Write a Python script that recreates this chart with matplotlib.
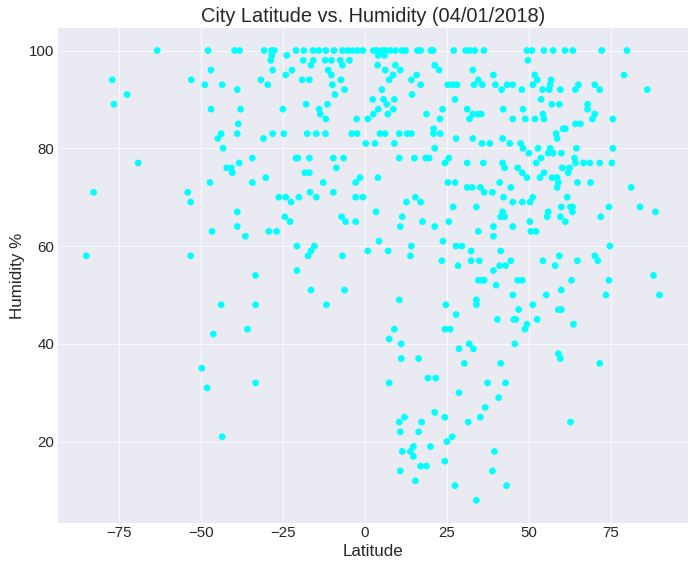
#!/usr/bin/env python3
"""City latitude vs. humidity scatter (04/01/2018)."""
import matplotlib
matplotlib.use("Agg")
import matplotlib.pyplot as plt

# Far south (lat < -43)
far_south_lat = [-77.0, -76.5, -72.5, -69.1, -63.3, -82.7, -54.0, -52.9, -48.8,
                 -47.8, -46.9, -46.9, -44.8, -47.2, -53.1, -46.6, -84.9, -53.1,
                 -46.2, -49.7, -48.1, -43.5, -43.8]
far_south_hum = [94, 89, 91, 77, 100, 71, 71, 94, 93,
                 100, 96, 88, 82, 73, 69, 63, 58, 58,
                 42, 35, 31, 21, 48]

# Southern mid latitudes (-45 .. 0)
south_lat = [
    -39.7, -38.2, -30.7, -28.4, -27.6, -21.0, -18.6, -15.8, -14.0, -11.9, -9.4, -6.8, -5.2, -3.7, -2.2, -0.6,
    -28.4, -23.8,
    -28.7, -18.8, -15.7, -12.1, -10.2, -7.5, -4.7,
    -16.4, -6.8,
    -28.1, -22.2, -11.2,
    -24.1, -10.2,
    -31.7, -19.1, -16.9, -7.3,
    -43.5, -29.6, -9.9,
    -38.9, -6.2,
    -9.1,
    -17.9, -11.4,
    -37.9, -25.0, -13.9,
    -13.6,
    -11.9, -2.5,
    -38.6,
    -43.8, -38.9, -28.1, -24.7, -17.6, -14.8, -12.0, -4.0, -2.4,
    -30.9,
    -43.2,
    -34.3, -21.0, -20.4, -16.9, -9.6, -6.5,
    -38.3,
    -42.1, -40.7, -8.7,
    -40.4, -18.3, -16.9,
    -30.2, -1.5,
    -34.3, -12.7, -2.8,
    -16.7, -9.6,
    -26.2, -24.1, -20.1, -14.8, -2.8, -0.6,
    -22.5,
    -38.9,
    -24.4, -7.1,
    -22.8, -5.9, -2.8,
    -38.9,
    -29.3, -26.9,
    -36.4,
    -20.7, -15.4,
    -16.4,
    -17.3, -6.8,
    -20.7,
    -33.3,
    -16.4, -6.2,
    -33.3, -11.7,
    -35.8,
    -33.3,
]
south_hum = [
    100, 100, 100, 100, 100, 100, 100, 100, 100, 100, 100, 100, 100, 100, 100, 100,
    99, 99,
    98, 98, 98, 98, 98, 98, 98,
    97, 97,
    96, 96, 96,
    95, 95,
    94, 94, 94, 94,
    93, 93, 93,
    92, 92,
    91,
    89, 89,
    88, 88, 88,
    87,
    86, 86,
    85,
    83, 83, 83, 83, 83, 83, 83, 83, 83,
    82,
    80,
    78, 78, 78, 78, 78, 78,
    77,
    76, 76, 76,
    75, 75, 75,
    74, 74,
    73, 73, 73,
    71, 71,
    70, 70, 70, 70, 70, 70,
    69,
    67,
    66, 66,
    65, 65, 65,
    64,
    63, 63,
    62,
    60, 60,
    59,
    58, 58,
    55,
    54,
    51, 51,
    48, 48,
    43,
    32,
]

# Equator to 50N
mid_lat = [
    2.6, 3.6, 5.2, 6.2, 7.7, 9.3, 11.3, 12.4, 16.0, 17.0, 20.1, 20.8, 27.1, 30.7, 31.9, 33.5, 36.3, 49.4, 50.9,
    4.1, 6.0,
    49.7,
    3.9, 9.3, 21.3,
    6.2, 10.8, 22.6, 32.9,
    8.6, 15.8, 39.2,
    7.4, 14.2, 34.6,
    17.0, 25.3, 26.8, 28.1, 33.3, 35.8, 39.8, 43.4, 45.1, 51.2,
    5.2, 41.7, 47.9,
    14.4,
    2.4, 5.7, 9.0, 27.5,
    6.7,
    4.1, 8.7, 23.7, 31.2, 42.2, 48.2,
    2.6, 7.0, 18.8, 32.9, 34.5, 35.5,
    0.9, 22.9, 31.9, 45.1, 48.9,
    21.0,
    4.6, 6.2, 10.5, 12.9, 14.2, 20.9, 23.0,
    27.8, 32.9, 42.0,
    0.3, 3.1, 9.0, 35.7, 38.1, 44.2, 47.5,
    21.3, 48.2,
    50.0,
    10.5, 15.1, 18.5, 19.6, 25.6,
    24.4, 31.2, 36.1, 42.0,
    42.6, 46.6,
    48.0,
    4.0, 49.4,
    25.3, 27.5, 41.1,
    31.2, 32.7, 35.2, 44.5,
    36.4, 38.9,
    15.4, 42.3,
    12.7, 17.0, 45.1, 48.0, 50.4,
    26.9, 34.0,
    3.4, 42.0,
    11.4, 41.4, 42.6,
    17.6, 25.6, 50.3,
    10.8, 21.3, 39.2, 45.1,
    34.6, 50.6,
    39.2,
    4.3, 23.8,
    14.2, 27.8, 29.6,
    0.9, 7.1, 32.4, 41.4,
    13.9,
    23.5, 32.4, 34.9, 44.5,
    28.4, 41.1, 42.9,
    39.2,
    34.6, 35.5, 36.4, 46.6, 48.0,
    40.0,
    45.1,
    10.5, 34.0,
    24.7, 34.0, 51.2,
    46.9,
    27.8,
    40.4, 45.4, 46.0,
    49.4,
    9.0, 24.4, 26.0, 48.8,
    7.4,
    11.1, 31.8, 45.7,
    28.7, 33.1,
    11.1, 16.4,
    30.3, 41.4,
    19.2, 21.6,
    7.4, 37.4, 42.9,
    28.7,
    40.8,
    36.7,
    21.3,
    12.1, 24.4, 35.2,
    10.5, 17.3, 31.5,
    10.8, 16.4,
    26.6,
    25.0,
    14.8, 20.0,
    11.4, 13.9, 39.5,
    14.8,
    24.4,
    17.0, 18.8,
    10.8, 38.9,
    15.4,
    27.5, 43.2,
    34.0,
]
mid_hum = [
    100, 100, 100, 100, 100, 100, 100, 100, 100, 100, 100, 100, 100, 100, 100, 100, 100, 100, 100,
    99, 99,
    98,
    97, 97, 97,
    96, 96, 96, 96,
    95, 95, 95,
    94, 94, 94,
    93, 93, 93, 93, 93, 93, 93, 93, 93, 93,
    92, 92, 92,
    91,
    90, 90, 90, 90,
    89,
    88, 88, 88, 88, 88, 88,
    87, 87, 87, 87, 87, 87,
    86, 86, 86, 86, 86,
    84,
    83, 83, 83, 83, 83, 83, 83,
    82, 82, 82,
    81, 81, 81, 81, 81, 81, 81,
    80, 80,
    79,
    78, 78, 78, 78, 78,
    77, 77, 77, 77,
    76, 76,
    75,
    74, 74,
    73, 73, 73,
    72, 72, 72, 72,
    71, 71,
    70, 70,
    69, 69, 69, 69, 69,
    68, 68,
    67, 67,
    66, 66, 66,
    65, 65, 65,
    64, 64, 64, 64,
    63, 63,
    62,
    61, 61,
    60, 60, 60,
    59, 59, 59, 59,
    58,
    57, 57, 57, 57,
    56, 56, 56,
    55,
    53, 53, 53, 53, 53,
    52,
    50,
    49, 49,
    48, 48, 48,
    47,
    46,
    45, 45, 45,
    44,
    43, 43, 43, 43,
    41,
    40, 40, 40,
    39, 39,
    37, 37,
    36, 36,
    33, 33,
    32, 32, 32,
    30,
    29,
    27,
    26,
    25, 25, 25,
    24, 24, 24,
    22, 22,
    21,
    20,
    19, 19,
    18, 18, 18,
    17,
    16,
    15, 15,
    14, 14,
    12,
    11, 11,
    8,
]

# North of 50N
north_lat = [
    54.6, 57.4, 61.0, 63.4, 72.2, 79.9,
    51.8, 79.0,
    52.6, 56.8,
    56.5, 65.1, 70.1,
    54.2, 56.2, 59.6, 64.2, 71.6, 86.1,
    53.7,
    57.0, 59.3, 67.9,
    67.9,
    54.3, 70.1,
    51.9, 54.6, 69.4, 75.6,
    64.2, 65.7,
    60.5, 61.1,
    58.3,
    58.6,
    52.8, 56.5, 64.5, 75.6,
    55.9, 57.4, 59.9,
    53.7, 63.9,
    52.2, 64.2, 66.7, 68.6, 71.6, 75.3,
    60.2, 62.4,
    54.6, 62.0,
    53.4, 57.1, 58.6,
    59.0, 64.8, 68.8,
    58.6, 81.2,
    51.2, 61.7,
    59.9, 62.7, 63.3, 74.4, 83.9,
    55.9, 63.3, 88.6,
    55.6, 59.6, 71.9,
    61.1,
    52.2,
    74.7,
    59.3, 70.1,
    54.3, 64.8, 71.0,
    58.0,
    88.0,
    63.0, 74.4,
    59.9,
    55.3, 73.5, 89.8,
    59.0, 59.9,
    52.5,
    63.6,
    59.0,
    59.6,
    71.6,
    62.7,
]
north_hum = [
    100, 100, 100, 100, 100, 100,
    95, 95,
    94, 94,
    93, 93, 93,
    92, 92, 92, 92, 92, 92,
    90,
    89, 89, 89,
    88,
    87, 87,
    86, 86, 86, 86,
    85, 85,
    84, 84,
    83,
    82,
    80, 80, 80, 80,
    79, 79, 79,
    78, 78,
    77, 77, 77, 77, 77, 77,
    76, 76,
    75, 75,
    74, 74, 74,
    73, 73, 73,
    72, 72,
    70, 70,
    68, 68, 68, 68, 68,
    67, 67, 67,
    66, 66, 66,
    65,
    63,
    60,
    58, 58,
    57, 57, 57,
    56,
    54,
    53, 53,
    51,
    50, 50, 50,
    47, 47,
    45,
    44,
    38,
    37,
    36,
    24,
]

TITLE = "City Latitude vs. Humidity (04/01/2018)"


def main():
    plt.style.use("seaborn-v0_8-darkgrid")
    plt.rcParams["font.family"] = ["Liberation Sans", "DejaVu Sans"]

    lats = far_south_lat + south_lat + mid_lat + north_lat
    hums = far_south_hum + south_hum + mid_hum + north_hum

    fig = plt.figure(figsize=(695 / 72, 572 / 72), dpi=72)
    ax = fig.add_axes([0.083, 0.086, 0.907, 0.865])
    ax.scatter(lats, hums, s=46, c="#00FFFF", edgecolors="none")

    ax.set_xticks([-75, -50, -25, 0, 25, 50, 75])
    ax.set_yticks([20, 40, 60, 80, 100])
    ax.tick_params(labelsize=15, colors="0.15")
    ax.set_title(TITLE, fontsize=20, color="0.15")
    ax.set_xlabel("Latitude", fontsize=17, color="0.15")
    ax.set_ylabel("Humidity %", fontsize=17, color="0.15")

    fig.savefig("out.png", dpi=72)
    plt.close(fig)


if __name__ == "__main__":
    main()
